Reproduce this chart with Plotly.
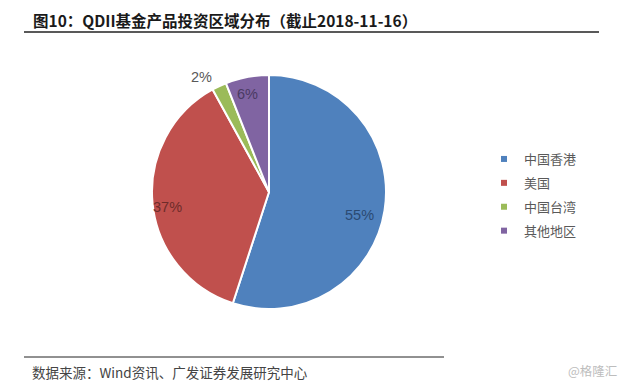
import math
import plotly.graph_objects as go

regions = ["中国香港", "美国", "中国台湾", "其他地区"]
shares = [55, 37, 2, 6]
colors = ["#4F81BD", "#C0504D", "#9BBB59", "#8064A2"]
label_colors = ["#2B4A72", "#6E2C2A", "#595959", "#4A3A62"]
label_radius = [0.80, 0.88, 1.14, 0.86]
label_angle_nudge = [5, -3, -5, -1.5]

W, H = 626, 385
cx, cy, R = 269, 192, 117  # pixel center (from top) and radius

fig = go.Figure()
fig.add_trace(go.Pie(
    labels=regions, values=shares, sort=False, direction="clockwise", rotation=0,
    marker=dict(colors=colors, line=dict(color="white", width=2)),
    textinfo="none", hoverinfo="label+percent",
    domain=dict(x=[(cx - R) / W, (cx + R) / W], y=[(H - cy - R) / H, (H - cy + R) / H]),
    showlegend=False,
))

# legend entries
for name, col in zip(regions, colors):
    fig.add_trace(go.Scatter(
        x=[None], y=[None], mode="markers", name=name, legendgroup=name,
        marker=dict(symbol="square", size=6, color=col),
    ))

total = sum(shares)
cum = 0
for v, rf, nudge, lc in zip(shares, label_radius, label_angle_nudge, label_colors):
    mid = (cum + v / 2) / total * 2 * math.pi + math.radians(nudge)
    cum += v
    px = cx + rf * R * math.sin(mid)
    py = cy - rf * R * math.cos(mid)
    fig.add_annotation(x=px / W, y=1 - py / H, xref="paper", yref="paper",
                       xanchor="center", yanchor="middle",
                       text=f"{v}%", showarrow=False,
                       font=dict(family="Liberation Sans, Arial", size=14.5, color=lc))

fig.add_annotation(x=31 / W, y=1 - 20 / H, xref="paper", yref="paper", xanchor="left", yanchor="middle",
                   text="<b>图10：QDII基金产品投资区域分布（截止2018-11-16）</b>", showarrow=False,
                   font=dict(family="Noto Sans CJK SC", size=15.5, color="#1a1a1a"))
fig.add_annotation(x=30 / W, y=1 - 372 / H, xref="paper", yref="paper", xanchor="left", yanchor="middle",
                   text="数据来源：Wind资讯、广发证券发展研究中心", showarrow=False,
                   font=dict(family="Noto Sans CJK SC", size=13.5, color="#444444"))
fig.add_annotation(x=619 / W, y=1 - 370 / H, xref="paper", yref="paper", xanchor="right", yanchor="middle",
                   text="@格隆汇", showarrow=False,
                   font=dict(family="Noto Sans CJK SC", size=12.5, color="#BDBDBD"))

fig.add_shape(type="line", xref="paper", yref="paper", x0=24 / W, x1=599 / W, y0=1 - 32 / H, y1=1 - 32 / H,
              line=dict(color="#222222", width=1.3))
fig.add_shape(type="line", xref="paper", yref="paper", x0=24 / W, x1=444 / W, y0=1 - 357 / H, y1=1 - 357 / H,
              line=dict(color="#222222", width=1))

fig.update_layout(
    width=W, height=H, margin=dict(l=0, r=0, t=0, b=0),
    paper_bgcolor="white", plot_bgcolor="white",
    xaxis=dict(visible=False), yaxis=dict(visible=False),
    showlegend=True,
    legend=dict(x=484 / W, y=1 - 144 / H, xanchor="left", yanchor="top",
                font=dict(family="Noto Sans CJK SC", size=13, color="#595959"),
                itemwidth=30, tracegroupgap=4, bgcolor="rgba(0,0,0,0)"),
)
fig.write_html("out.html", post_script="document.body.style.margin='0';",
               config={"displayModeBar": False})
